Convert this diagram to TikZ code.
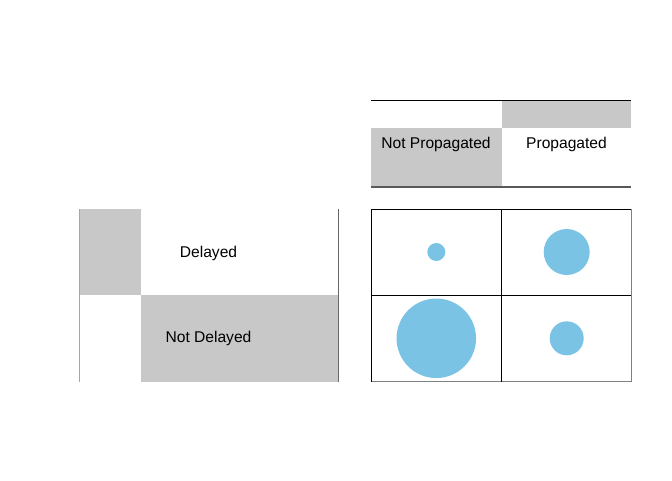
\documentclass[tikz,border=0pt]{standalone}
\usepackage{fontspec}
\setmainfont{Liberation Sans}
\definecolor{boxgray}{RGB}{200,200,200}
\definecolor{dotblue}{RGB}{122,195,228}
\begin{document}
\begin{tikzpicture}[x=1pt,y=-1pt]
\tikzstyle{every node}=[font=\fontsize{15.6}{18}\selectfont]
\tikzstyle{dot}=[circle,fill=dotblue,inner sep=0pt]
\useasboundingbox (0,0) rectangle (672,480);
% header: propagated
\fill[boxgray] (502,100) rectangle (631,128);
\fill[boxgray] (371,128) rectangle (502,187);
\draw[line width=0.8pt] (371,100) -- (631,100);
\draw[line width=1.2pt,gray!70!black] (371,187) -- (631,187);
\node (np) at (436,144) {Not Propagated};
\node (p) at (566.5,144) {Propagated};
% side: delayed
\fill[boxgray] (79,209) rectangle (141,295);
\fill[boxgray] (141,295) rectangle (338,381.5);
\draw[line width=0.8pt,gray!70] (79,209) -- (79,381.5);
\draw[line width=1pt,gray!80!black] (338.5,209) -- (338.5,381.5);
\node (d) at (208.5,253) {Delayed};
\node (nd) at (208.5,338.5) {Not Delayed};
% grid
\draw[line width=0.8pt,gray] (631,209) -- (631,381.5) -- (371,381.5);
\draw[line width=0.8pt] (371,381.5) -- (371,209) -- (631,209);
\draw[line width=0.8pt] (501.3,209) -- (501.3,381.5);
\draw[line width=0.8pt] (371,295.3) -- (631,295.3);
\node[dot,minimum size=18pt] (c11) at (436.3,252) {};
\node[dot,minimum size=46pt] (c12) at (566.7,252) {};
\node[dot,minimum size=79.5pt] (c21) at (436.3,338.3) {};
\node[dot,minimum size=34pt] (c22) at (566.7,338.3) {};
\end{tikzpicture}
\end{document}
